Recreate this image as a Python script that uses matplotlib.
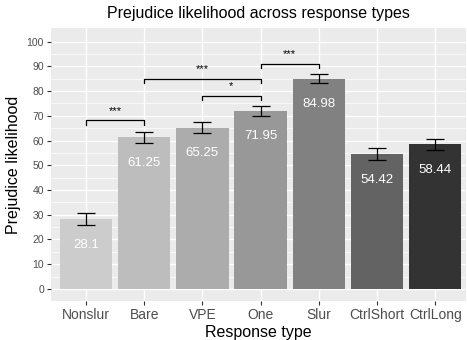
import matplotlib
matplotlib.use('Agg')
import matplotlib.pyplot as plt
import numpy as np

# data
types = ['Nonslur', 'Bare', 'VPE', 'One', 'Slur', 'CtrlShort', 'CtrlLong']
means = [28.1, 61.25, 65.25, 71.95, 84.98, 54.42, 58.44]
errors = [2.45, 2.2, 2.25, 2.0, 1.9, 2.45, 2.35]
bar_colors = ['#CCCCCC', '#BDBDBD', '#ACACAC', '#989898', '#818181', '#636363', '#333333']

# significance brackets: (from, to, height, label)
sig_left = ['Nonslur', 'VPE', 'Bare', 'One']
sig_right = ['Bare', 'One', 'One', 'Slur']
sig_height = [68.1, 78.0, 85.0, 91.1]
sig_label = ['***', '*', '***', '***']

plt.rcParams['font.family'] = ['Liberation Sans', 'DejaVu Sans']

fig = plt.figure(figsize=(4.67, 3.40), dpi=100)
ax = fig.add_axes([51 / 467, 1 - 301 / 340, 415 / 467, 273 / 340])
ax.set_facecolor('#EBEBEB')

x = np.arange(1, len(types) + 1)
ax.bar(x, means, width=0.9, color=bar_colors, zorder=3)
ax.errorbar(x, means, yerr=errors, fmt='none', ecolor='black', elinewidth=0.9,
            capsize=6.5, capthick=0.9, zorder=4)

for xi, m in zip(x, means):
    ax.text(xi, m - 10.3, f'{m:g}', color='white', ha='center', va='center',
            fontsize=9.5, zorder=5)

pos = dict(zip(types, x))
for a, b, h, lab in zip(sig_left, sig_right, sig_height, sig_label):
    x1, x2 = pos[a], pos[b]
    ax.plot([x1, x1, x2, x2], [h - 1.8, h, h, h - 1.8], color='black', lw=0.9, zorder=4)
    ax.text((x1 + x2) / 2, h + 1.8, lab, ha='center', va='bottom', fontsize=8, zorder=5)

ax.set_xlim(0.4, 7.53)
ax.set_ylim(-4.9, 105.5)
ax.set_xticks(x)
ax.set_xticklabels(types)
ax.set_yticks(np.arange(0, 101, 10))
ax.set_yticks(np.arange(5, 100, 10), minor=True)

ax.grid(which='major', color='white', lw=1.0, zorder=0)
ax.grid(which='minor', axis='y', color='white', lw=0.5, zorder=0)
for s in ax.spines.values():
    s.set_visible(False)

ax.tick_params(axis='x', which='major', length=3, color='#333333', labelsize=10,
               labelcolor='#4D4D4D', pad=2)
ax.tick_params(axis='y', which='major', length=3, color='#333333', labelsize=7.5,
               labelcolor='#4D4D4D', pad=2)
ax.tick_params(which='minor', length=0)

ax.set_xlabel('Response type', fontsize=11.5, labelpad=2)
ax.set_ylabel('Prejudice likelihood', fontsize=11.5, labelpad=4)
ax.set_title('Prejudice likelihood across response types', fontsize=11.5, pad=7)

fig.savefig('out.png', dpi=100)
